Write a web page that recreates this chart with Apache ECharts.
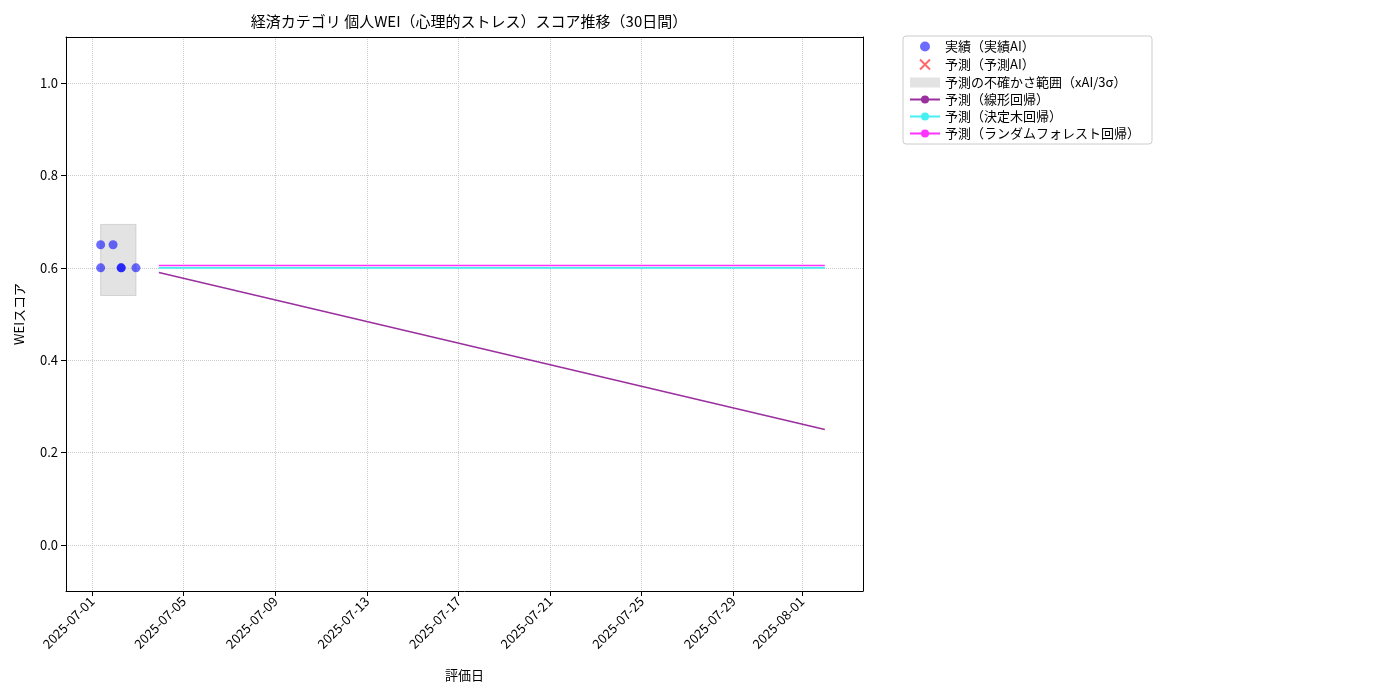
<!DOCTYPE html><html><head><meta charset="utf-8">
<script src="https://cdn.jsdelivr.net/npm/echarts@6/dist/echarts.min.js"></script>
<style>body{margin:0}#c{width:1400px;height:700px}</style></head><body><div id="c"></div>
<script>
const actualTimes=['2025-07-01T09:00','2025-07-01T09:00','2025-07-01T22:00','2025-07-02T06:30','2025-07-02T06:30','2025-07-02T22:00'];
const actualValues=[0.65,0.60,0.65,0.60,0.60,0.60];
const bandRange=['2025-07-01T09:00','2025-07-02T22:00'];
const bandValues=[0.54,0.694];
const predTimes=['2025-07-03T22:00','2025-08-02T00:00'];
const linearValues=[0.59,0.25];
const treeValues=[0.60,0.60];
const rfValues=[0.605,0.605];
const tickDates=['2025-07-01','2025-07-05','2025-07-09','2025-07-13','2025-07-17','2025-07-21','2025-07-25','2025-07-29','2025-08-01'];
const xRange=['2025-06-29T20:40','2025-08-03T16:00'];
const T=s=>Date.parse(s+(s.length===10?'T00:00':'')+'Z');
const pair=(ts,vs)=>ts.map((t,i)=>[T(t),vs[i]]);
const F='Noto Sans CJK JP';
const xPath='path://M0,0L10,10M10,0L0,10';
const grid={type:'dotted',color:'#ccc'};
const chart=echarts.init(document.getElementById('c'));
chart.setOption({
 animation:false,textStyle:{fontFamily:F},
 title:{text:'経済カテゴリ 個人WEI（心理的ストレス）スコア推移（30日間）',left:464,top:9,textAlign:'center',textStyle:{fontFamily:F,fontSize:15,fontWeight:'normal',color:'#000'}},
 legend:{orient:'vertical',left:903,top:36,padding:[4,12,4,6],itemGap:4,itemWidth:30,itemHeight:10,borderColor:'#ccc',borderWidth:1,borderRadius:3,
  textStyle:{fontFamily:F,fontSize:13,color:'#000'},
  data:[{name:'実績（実績AI）',icon:'circle'},{name:'予測（予測AI）',icon:xPath,itemStyle:{color:'none',borderColor:'#ff4444',borderWidth:2}},{name:'予測の不確かさ範囲（xAI/3σ）',icon:'rect'},{name:'予測（線形回帰）'},{name:'予測（決定木回帰）'},{name:'予測（ランダムフォレスト回帰）'}]},
 grid:{left:66,right:537,top:37,bottom:109},
 xAxis:[{type:'value',min:T(xRange[0]),max:T(xRange[1]),name:'評価日',nameLocation:'middle',nameGap:78,nameTextStyle:{fontFamily:F,fontSize:13,color:'#000'},
  axisLine:{onZero:false,lineStyle:{color:'#000'}},
  axisTick:{customValues:tickDates.map(T),lineStyle:{color:'#000'}},
  axisLabel:{customValues:tickDates.map(T),rotate:45,color:'#000',fontSize:13,formatter:v=>new Date(v).toISOString().slice(0,10)},
  splitLine:{show:true,lineStyle:grid}},
  {type:'value',position:'top',min:0,max:1,axisLine:{show:true,onZero:false,lineStyle:{color:'#000'}},axisTick:{show:false},axisLabel:{show:false},splitLine:{show:false}}],
 yAxis:[{type:'value',min:-0.1,max:1.1,name:'WEIスコア',nameLocation:'middle',nameGap:40,nameTextStyle:{fontFamily:F,fontSize:13,color:'#000'},
  axisLine:{show:true,onZero:false,lineStyle:{color:'#000'}},axisTick:{show:true,customValues:[0,0.2,0.4,0.6,0.8,1.0],lineStyle:{color:'#000'}},
  axisLabel:{customValues:[0,0.2,0.4,0.6,0.8,1.0],color:'#000',fontSize:13,formatter:v=>v.toFixed(1)},
  splitLine:{show:true,lineStyle:grid}},
  {type:'value',position:'right',min:0,max:1,axisLine:{show:true,onZero:false,lineStyle:{color:'#000'}},axisTick:{show:false},axisLabel:{show:false},splitLine:{show:false}}],
 series:[
  {name:'予測の不確かさ範囲（xAI/3σ）',type:'line',data:[],symbol:'none',itemStyle:{color:'#e3e3e3'},
   markArea:{silent:true,itemStyle:{color:'rgba(200,200,200,0.5)',borderColor:'rgba(190,190,190,0.6)',borderWidth:1},
    data:[[{xAxis:T(bandRange[0]),yAxis:bandValues[0]},{xAxis:T(bandRange[1]),yAxis:bandValues[1]}]]}},
  {name:'予測（予測AI）',type:'scatter',data:[]},
  {name:'予測（線形回帰）',type:'line',data:pair(predTimes,linearValues),symbol:'none',lineStyle:{color:'#9b2f9e',width:1.6},itemStyle:{color:'#9b2f9e'}},
  {name:'予測（決定木回帰）',type:'line',data:pair(predTimes,treeValues),symbol:'none',lineStyle:{color:'#44f0f0',width:1.6},itemStyle:{color:'#44f0f0'}},
  {name:'予測（ランダムフォレスト回帰）',type:'line',data:pair(predTimes,rfValues),symbol:'none',lineStyle:{color:'#ff33ff',width:1.6},itemStyle:{color:'#ff33ff'}},
  {name:'実績（実績AI）',type:'scatter',data:pair(actualTimes,actualValues),symbolSize:9,itemStyle:{color:'rgba(0,0,255,0.72)'},z:5}
 ]
});
</script></body></html>
